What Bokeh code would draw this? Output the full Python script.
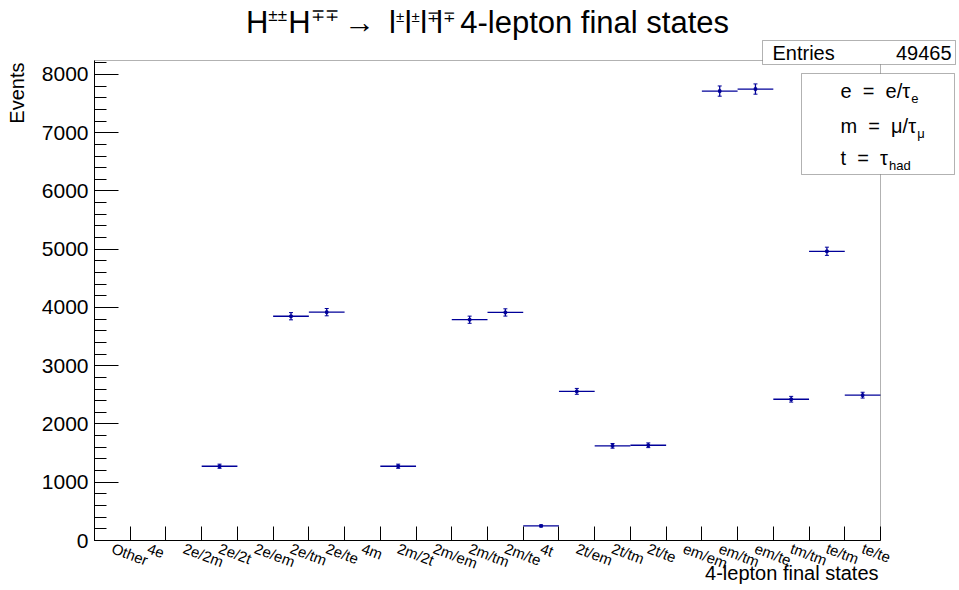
import numpy as np
from bokeh.plotting import figure
from bokeh.models import (Range1d, LinearAxis, FixedTicker, SingleIntervalTicker,
                          Label, BoxAnnotation, ColumnDataSource)
from bokeh.embed import file_html
from bokeh.resources import INLINE

# ---- data ------------------------------------------------------------------
categories = ["Other", "4e", "2e/2m", "2e/2t", "2e/em", "2e/tm", "2e/te", "4m",
              "2m/2t", "2m/em", "2m/tm", "2m/te", "4t", "2t/em", "2t/tm", "2t/te",
              "em/em", "em/tm", "em/te", "tm/tm", "te/tm", "te/te"]
events = [0, 0, 0, 1275, 0, 3850, 3920, 0,
          1275, 0, 3790, 3915, 250, 2560, 1625, 1635,
          0, 7715, 7750, 2425, 4965, 2495]
entries = 49465
y_max = 8240
y_tick_step = 1000

# ---- layout / style ----------------------------------------------------------
FONT = "Liberation Sans"
HIST = "#000099"
W, H = 959, 590
FL, FR, FT, FB = 94, 880, 60, 540          # histogram frame edges, canvas pixels
BASE_SHIFT = 0.36                          # alphabetic-baseline correction (em)

n = len(categories)
# the plotting area spans the whole canvas; the histogram frame sits inside it
px_per_bin = (FR - FL) / n
px_per_y = (FB - FT) / y_max
x_start, x_end = -FL / px_per_bin, n + (W - FR) / px_per_bin
y_start, y_end = -(H - FB) / px_per_y, y_max + FT / px_per_y

edges = np.arange(n + 1, dtype=float)
centers = edges[:-1] + 0.5
counts = np.array(events, dtype=float)
errs = np.sqrt(counts)
filled = counts > 0

src = ColumnDataSource(dict(
    left=edges[:-1][filled], right=edges[1:][filled], x=centers[filled],
    y=counts[filled], lo=(counts - errs)[filled], hi=(counts + errs)[filled]))

p = figure(width=W, height=H, output_backend="svg", toolbar_location=None, title=None,
           x_range=Range1d(x_start, x_end), y_range=Range1d(y_start, y_end),
           min_border=0, min_border_left=0, min_border_right=0,
           min_border_top=0, min_border_bottom=0,
           background_fill_color="white", border_fill_color="white",
           outline_line_color=None)
p.grid.visible = False

# frame box
p.add_layout(BoxAnnotation(left=0, right=n, bottom=0, top=y_max,
                           fill_alpha=0, line_color="black", line_width=1))

# y axis: ticks drawn inward like a ROOT frame
yax = p.yaxis[0]
yax.fixed_location = 0
yax.bounds = (0, y_max)
yax.ticker = SingleIntervalTicker(interval=y_tick_step, num_minor_ticks=5)
yax.major_tick_in, yax.major_tick_out = 24, 0
yax.minor_tick_in, yax.minor_tick_out = 12, 0
yax.major_tick_line_color = "black"
yax.minor_tick_line_color = "black"
yax.axis_line_color = "black"
yax.major_label_text_font = FONT
yax.major_label_text_font_size = "21px"
yax.major_label_text_color = "black"
yax.major_label_standoff = 6

# x axis 1: ticks at bin edges, no labels
xax = p.xaxis[0]
xax.fixed_location = 0
xax.bounds = (0, n)
xax.ticker = FixedTicker(ticks=list(edges), minor_ticks=[])
xax.major_tick_in, xax.major_tick_out = 14, 0
xax.minor_tick_in, xax.minor_tick_out = 0, 0
xax.major_tick_line_color = "black"
xax.axis_line_color = "black"
xax.major_label_overrides = {float(e): "" for e in edges}
xax.major_label_text_font_size = "0px"
xax.major_label_standoff = 0

# x axis 2: slanted category names at bin centres
xlab = LinearAxis(ticker=FixedTicker(ticks=list(centers), minor_ticks=[]),
                  fixed_location=0, bounds=(0, n),
                  major_label_overrides={float(c): cat for c, cat in zip(centers, categories)},
                  major_tick_in=0, major_tick_out=0, minor_tick_in=0, minor_tick_out=0,
                  major_tick_line_color=None, minor_tick_line_color=None,
                  axis_line_color=None, major_label_orientation=-0.36,
                  major_label_standoff=7, major_label_text_font=FONT,
                  major_label_text_font_size="15px", major_label_text_color="black")
p.add_layout(xlab, "below")

# histogram drawn with error bars
p.segment(x0="left", x1="right", y0="y", y1="y", source=src, line_color=HIST, line_width=1.3)
p.segment(x0="x", x1="x", y0="lo", y1="hi", source=src, line_color=HIST, line_width=1.3)
p.scatter(x="x", y="y", source=src, marker="square", size=2.5, color=HIST)
p.scatter(x="x", y="lo", source=src, marker="dash", size=4, color=HIST)
p.scatter(x="x", y="hi", source=src, marker="dash", size=4, color=HIST)


def text(x, y, t, size, align="left", angle=0.0):
    """Place text with its alphabetic baseline at canvas point (x, y)."""
    if angle:
        x, y = x - BASE_SHIFT * size, y
    else:
        y = y - BASE_SHIFT * size
    p.add_layout(Label(x=x, y=H - y, x_units="screen", y_units="screen", text=t,
                       text_align=align, text_baseline="alphabetic", text_font=FONT,
                       text_font_size=f"{size}px", text_color="black", angle=angle))


# Arial-compatible advance widths (em) for the strings composed piecewise
ADV = {"H": .722, "±": .584, "∓": .584, " ": .278, "\u00a0": .278, "→": 1.0,
       "l": .222, "4": .556, "-": .333, "e": .556, "p": .556, "t": .278, "o": .556,
       "n": .556, "f": .278, "i": .222, "a": .556, "s": .5, "m": .833, "=": .584,
       "/": .278, "τ": .45, "μ": .576}


def width(txt, size):
    return sum(ADV.get(c, .556) for c in txt) * size


# axis titles
text(878, 580, "4-lepton final states", 20, "right")
text(24, 62, "Events", 20, "right", angle=np.pi / 2)

# statistics box
p.add_layout(BoxAnnotation(left=762, right=955, top=H - 40, bottom=H - 64,
                           left_units="screen", right_units="screen",
                           top_units="screen", bottom_units="screen",
                           fill_color="white", fill_alpha=1.0,
                           line_color="black", line_width=1))
text(772, 60, "Entries", 20)
text(951, 60, str(entries), 20, "right")

# legend of the lepton shorthand
p.add_layout(BoxAnnotation(left=801, right=954, top=H - 73, bottom=H - 174,
                           left_units="screen", right_units="screen",
                           top_units="screen", bottom_units="screen",
                           fill_color="white", fill_alpha=1.0,
                           line_color="black", line_width=1))
legend_rows = [("e \u00a0=\u00a0 e/τ", "e", 98),
               ("m \u00a0=\u00a0 μ/τ", "μ", 133),
               ("t \u00a0=\u00a0 τ", "had", 165)]
for main, sub, base in legend_rows:
    text(840, base, main, 20)
    text(840 + width(main, 20), base + 5, sub, 13)

# title with raised charge signs: (text, font size, baseline)
BIG, SUP_H, SUP_L = 31, 17, 15
GAP = "\u00a0"
pieces = [("H", BIG, 33), ("±±", SUP_H, 21), ("H", BIG, 33), ("∓∓", SUP_H, 21),
          (GAP * 2, BIG * 0.8, 0), ("→", BIG, 33), (GAP * 2, BIG * 0.8, 0),
          ("l", BIG, 33), ("±", SUP_L, 21), ("l", BIG, 33), ("±", SUP_L, 21),
          ("l", BIG, 33), ("∓", SUP_L, 21), ("l", BIG, 33), ("∓", SUP_L, 21),
          (GAP, BIG, 0), ("4-lepton final states", BIG, 33)]

total = sum(width(t, s) for t, s, _ in pieces)
cursor = 487 - total / 2
for txt, size, base in pieces:
    if txt.strip():
        text(cursor, base, txt, size)
    cursor += width(txt, size)

open("out.html", "w").write(file_html(p, INLINE))
